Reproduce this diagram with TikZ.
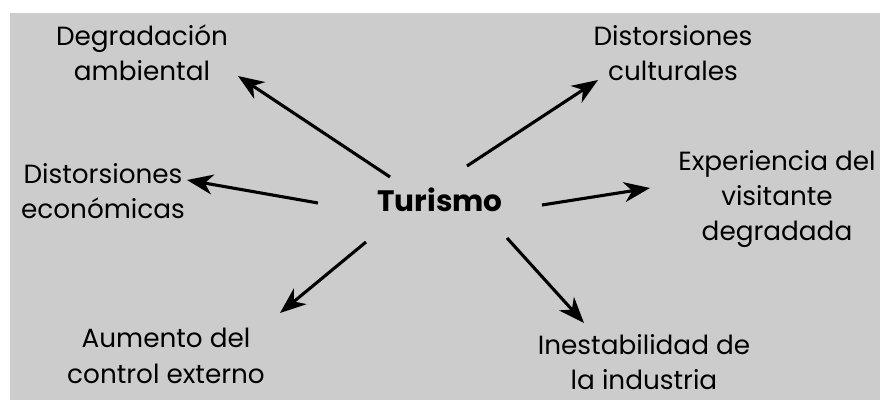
\documentclass[tikz,border=0pt]{standalone}
\usepackage{fontspec}
\setmainfont{Poppins}
\usetikzlibrary{arrows.meta}
\definecolor{fondo}{RGB}{204,204,204}
\begin{document}
\begin{tikzpicture}[x=0.025cm,y=-0.025cm,
	>={Stealth[length=6.5mm,width=5mm,inset=2mm]},
	txt/.style={align=center,inner sep=0pt,font=\fontsize{18.7}{25.2}\selectfont},
	flecha/.style={->,line width=2.2pt}]
	\useasboundingbox (0,0) rectangle (880,400);
	\fill[fondo] (10,13) rectangle (880,400);
	\path
	(440,200) node[txt,font=\fontsize{21}{24}\selectfont\bfseries] (tur) {Turismo}
	(142,53)  node[txt] (deg) {Degradación\\ambiental}
	(673,53)  node[txt] (cul) {Distorsiones\\culturales}
	(103,191) node[txt] (eco) {Distorsiones\\económicas}
	(777,199) node[txt] (exp) {Experiencia del\\visitante\\degradada}
	(166,356) node[txt] (aum) {Aumento del\\control externo}
	(644,362) node[txt] (ine) {Inestabilidad de\\la industria};
	% extremos de las flechas
	\path
	(390,177) coordinate (deg-s) (238,76)  coordinate (deg-e)
	(318,203) coordinate (eco-s) (187,180) coordinate (eco-e)
	(467,166) coordinate (cul-s) (598,80)  coordinate (cul-e)
	(542,205) coordinate (exp-s) (650,188) coordinate (exp-e)
	(366,242) coordinate (aum-s) (280,313) coordinate (aum-e)
	(507,238) coordinate (ine-s) (584,323) coordinate (ine-e);
	\draw[flecha] (deg-s)--(deg-e);
	\draw[flecha] (eco-s)--(eco-e);
	\draw[flecha] (cul-s)--(cul-e);
	\draw[flecha] (exp-s)--(exp-e);
	\draw[flecha] (aum-s)--(aum-e);
	\draw[flecha] (ine-s)--(ine-e);
\end{tikzpicture}
\end{document}
